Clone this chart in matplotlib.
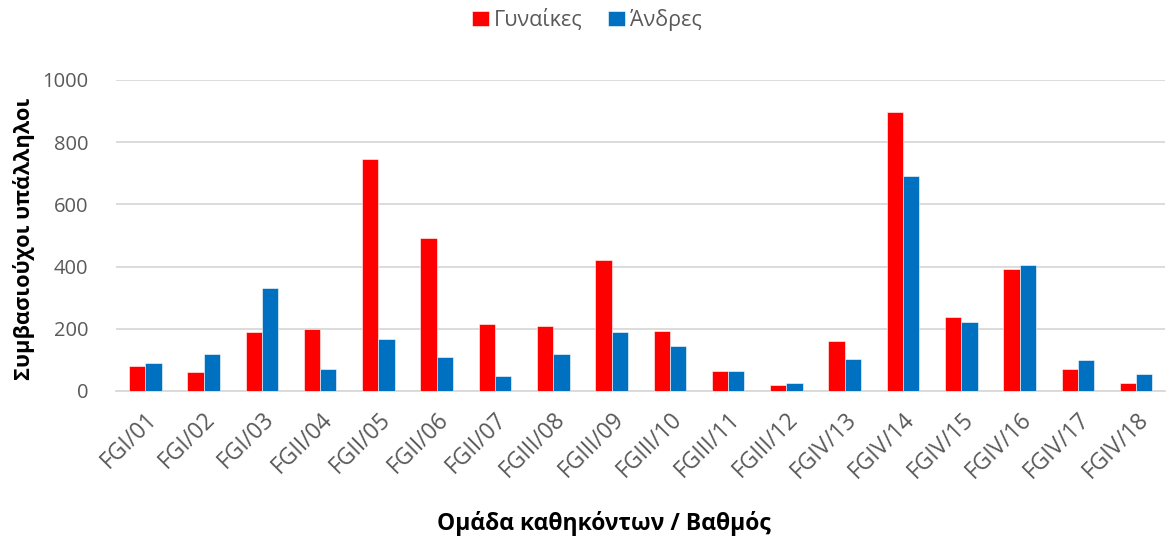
import matplotlib

matplotlib.use("Agg")
import matplotlib.pyplot as plt
import numpy as np

categories = [
    "FGI/01", "FGI/02", "FGI/03", "FGII/04", "FGII/05", "FGII/06", "FGII/07",
    "FGIII/08", "FGIII/09", "FGIII/10", "FGIII/11", "FGIII/12",
    "FGIV/13", "FGIV/14", "FGIV/15", "FGIV/16", "FGIV/17", "FGIV/18",
]
women = [80, 60, 188, 200, 747, 493, 216, 208, 422, 192, 64, 19, 159, 896, 237, 393, 72, 24]
men = [89, 118, 332, 72, 167, 110, 48, 118, 188, 144, 64, 24, 102, 690, 221, 406, 98, 56]
yticks = [0, 200, 400, 600, 800, 1000]

plt.rcParams["font.family"] = ["Open Sans", "DejaVu Sans"]

fig = plt.figure(figsize=(11.67, 5.43), dpi=100)
ax = fig.add_axes([0.0995, 0.280, 0.899, 0.573])

x = np.arange(len(categories))
w = 0.28
ax.bar(x - w / 2, women, w, color="#ff0000", edgecolor="white", linewidth=0.4, label="Γυναίκες", zorder=3)
ax.bar(x + w / 2, men, w, color="#0070c0", edgecolor="white", linewidth=0.4, label="Άνδρες", zorder=3)

ax.set_xlim(-0.5, len(categories) - 0.5)
ax.set_ylim(0, 1000)
ax.set_yticks(yticks)
ax.yaxis.grid(True, color="#d9d9d9", linewidth=1.3, zorder=0)
ax.set_axisbelow(True)
for side in ["top", "right", "left"]:
    ax.spines[side].set_visible(False)
ax.spines["bottom"].set_color("#d9d9d9")
ax.spines["bottom"].set_linewidth(1.3)
ax.tick_params(axis="both", length=0, colors="#595959")
ax.tick_params(axis="y", pad=20, labelsize=14.5)
ax.set_xticks(x)
ax.set_xticklabels(categories, rotation=45, ha="right", rotation_mode="anchor")
ax.tick_params(axis="x", pad=12, labelsize=16.5)

ax.set_ylabel("Συμβασιούχοι υπάλληλοι", fontsize=15.7, fontweight="bold")
ax.yaxis.set_label_coords(-0.077, 0.49)
ax.set_xlabel("Ομάδα καθηκόντων / Βαθμός", fontsize=16.5, fontweight="bold")
ax.xaxis.set_label_coords(0.465, -0.385)

fig.legend(*ax.get_legend_handles_labels(), loc="center", bbox_to_anchor=(0.503, 0.963),
           ncol=2, frameon=False, fontsize=15.5, handlelength=0.75, handleheight=0.75,
           handletextpad=0.25, columnspacing=1.2, labelcolor="#595959")

fig.savefig("out.png", dpi=100)
